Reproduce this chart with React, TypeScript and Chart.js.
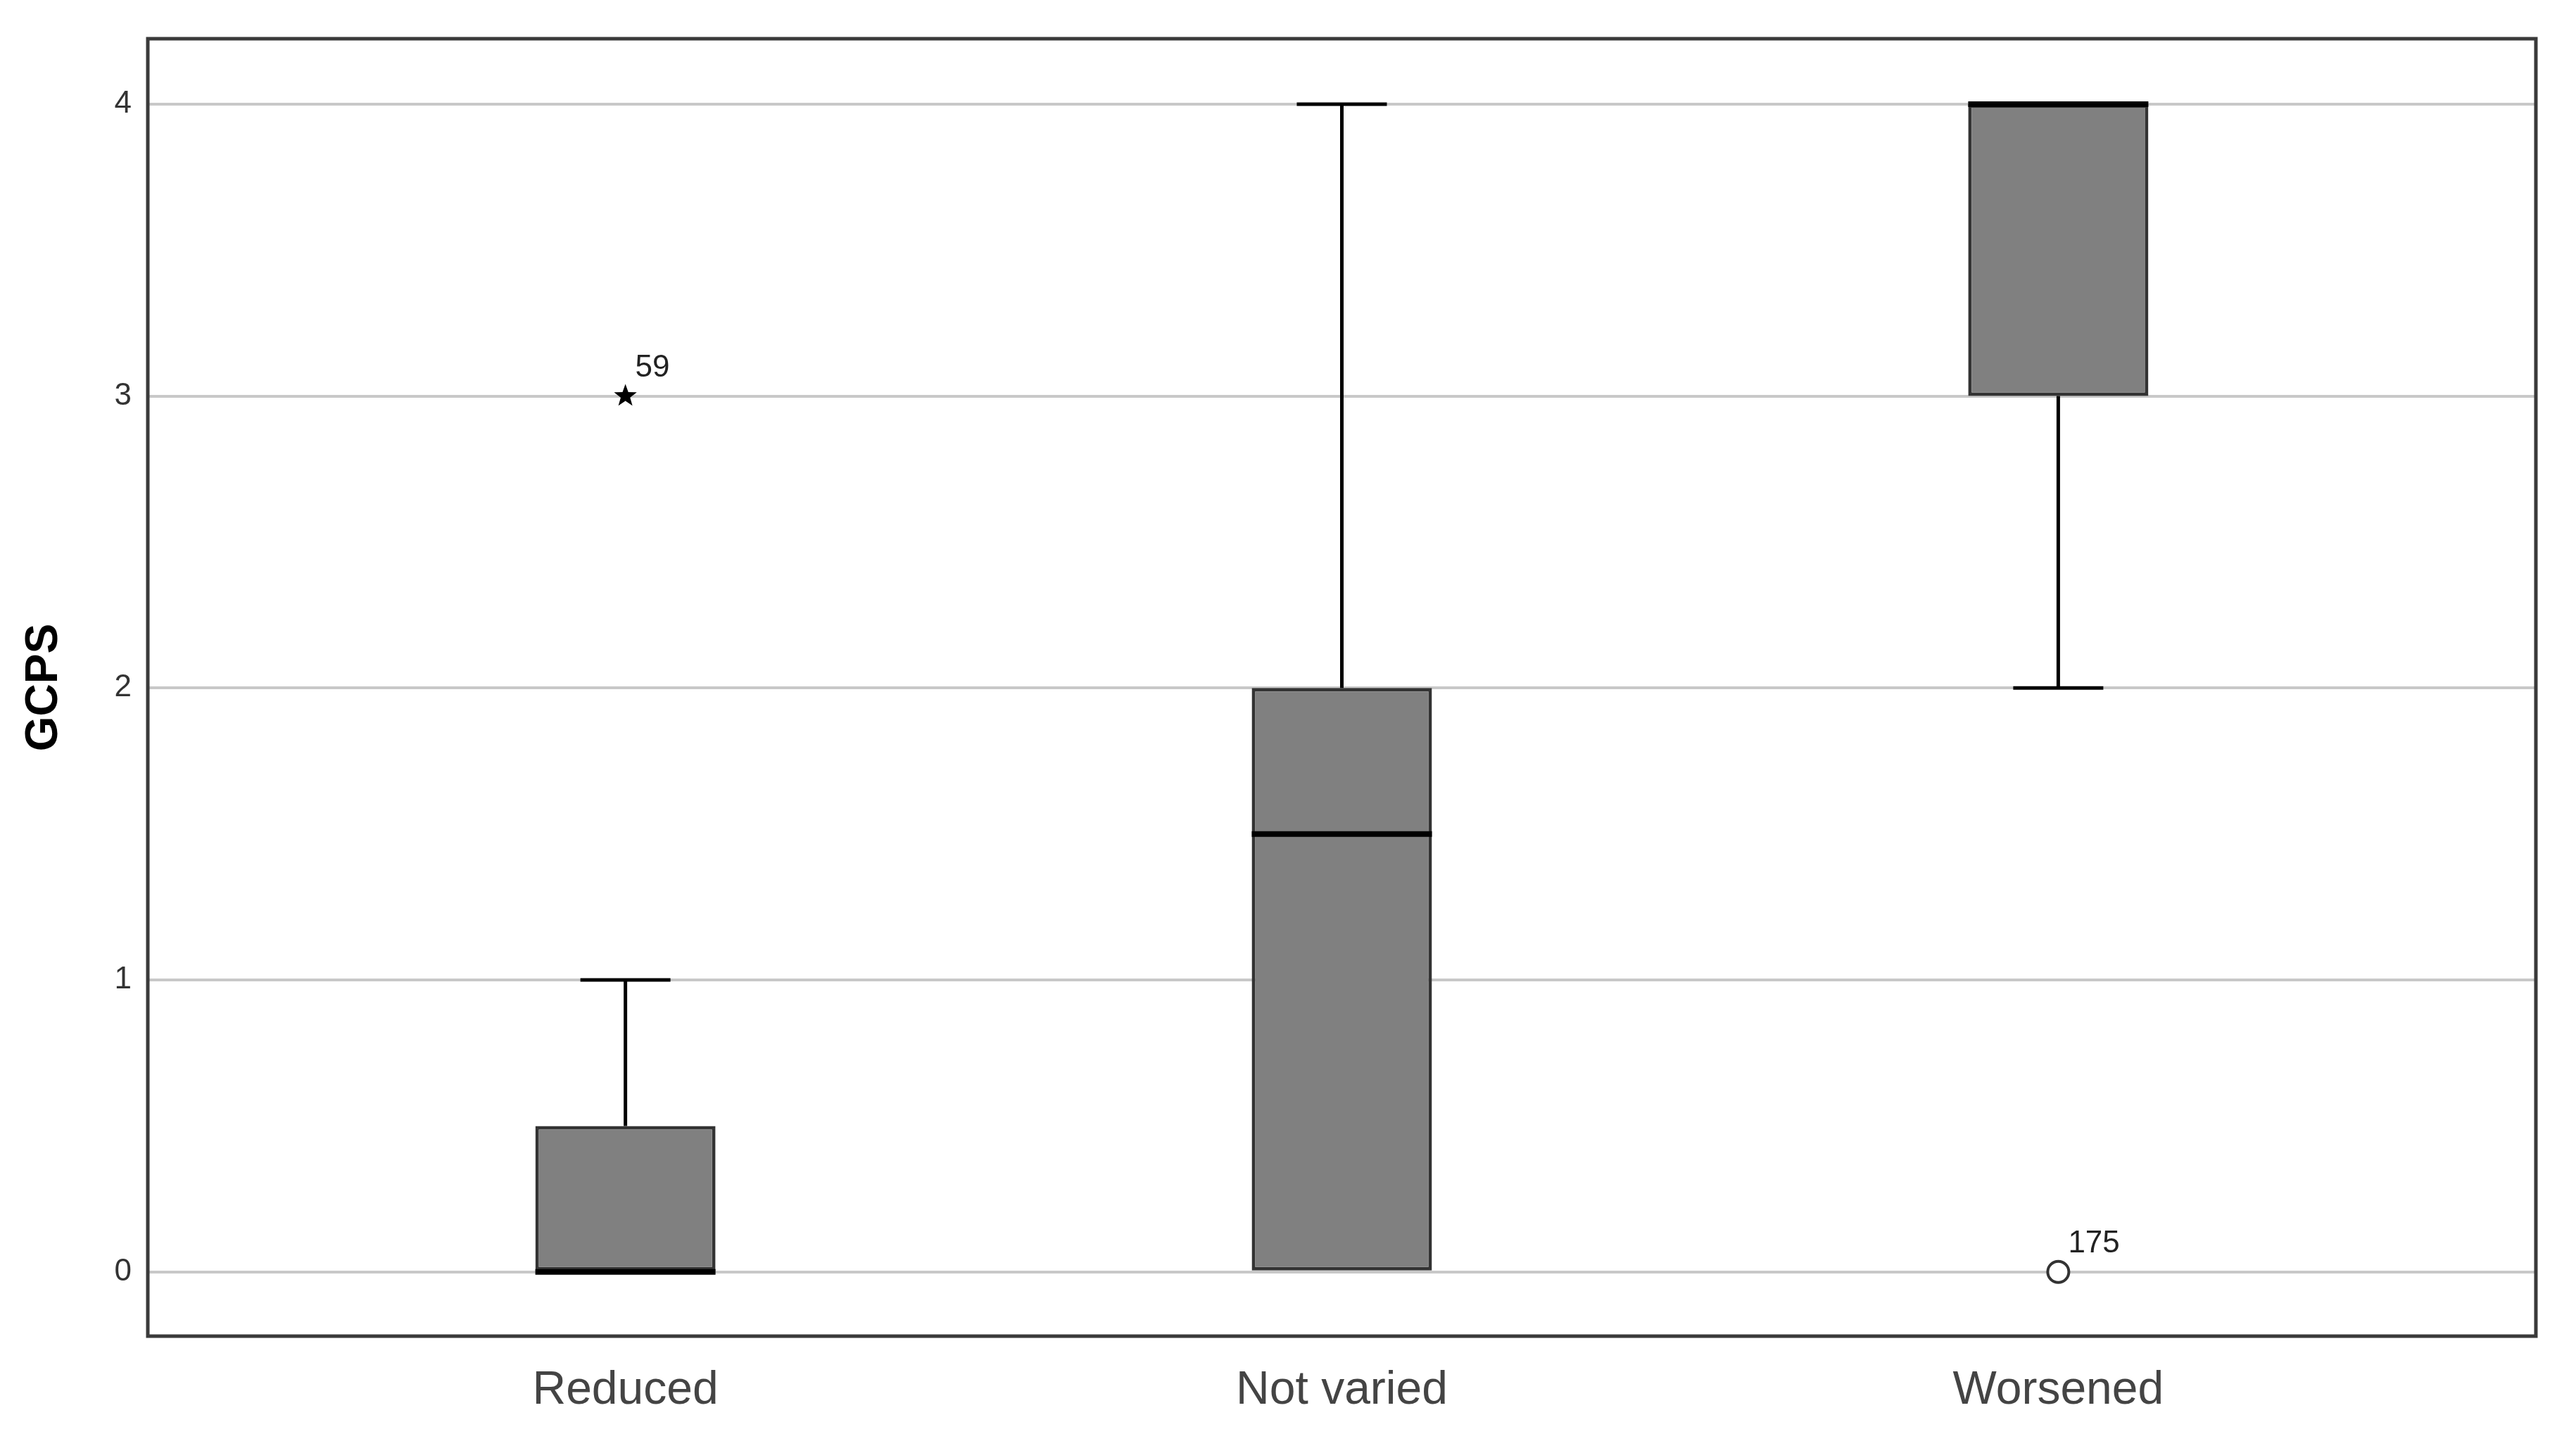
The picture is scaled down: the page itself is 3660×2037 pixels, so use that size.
import React, { useEffect, useRef } from "react";
import { Chart, registerables } from "chart.js";

Chart.register(...registerables);

// ---- data ----
const categories = ["Reduced", "Not varied", "Worsened"];
const categoryPositions = [1, 2, 3];
const q1Values = [0, 0, 3];
const medianValues = [0, 1.5, 4];
const q3Values = [0.5, 2, 4];
const whiskerLow = [0, 0, 2];
const whiskerHigh = [1, 4, 4];
const outlierCategory = [0, 2];
const outlierValues = [3, 0];
const outlierLabels = ["59", "175"];
const outlierSymbols = ["star", "circle"];
const yTickValues = [0, 1, 2, 3, 4];
const yAxisTitle = "GCPS";

const FONT = "'Liberation Sans', Arial, sans-serif";

const boxPlotPlugin = {
  id: "boxPlotExtras",
  afterDatasetsDraw(chart: any) {
    const { ctx, scales } = chart;
    const xs = scales.x;
    const ys = scales.y;
    const meta = chart.getDatasetMeta(0);
    ctx.save();
    categories.forEach((_, i) => {
      const bar = meta.data[i];
      const cx = xs.getPixelForValue(categoryPositions[i]);
      const half = bar.width / 2;
      const capHalf = half / 2;
      ctx.strokeStyle = "#000";
      ctx.lineWidth = 5;
      ctx.lineCap = "butt";
      const yQ3 = ys.getPixelForValue(q3Values[i]);
      const yHi = ys.getPixelForValue(whiskerHigh[i]);
      const yQ1 = ys.getPixelForValue(q1Values[i]);
      const yLo = ys.getPixelForValue(whiskerLow[i]);
      if (whiskerHigh[i] > q3Values[i]) {
        ctx.beginPath();
        ctx.moveTo(cx, yQ3);
        ctx.lineTo(cx, yHi);
        ctx.moveTo(cx - capHalf, yHi);
        ctx.lineTo(cx + capHalf, yHi);
        ctx.stroke();
      }
      if (whiskerLow[i] < q1Values[i]) {
        ctx.beginPath();
        ctx.moveTo(cx, yQ1);
        ctx.lineTo(cx, yLo);
        ctx.moveTo(cx - capHalf, yLo);
        ctx.lineTo(cx + capHalf, yLo);
        ctx.stroke();
      }
      const yMed = ys.getPixelForValue(medianValues[i]);
      ctx.lineWidth = 8;
      ctx.beginPath();
      ctx.moveTo(cx - half, yMed);
      ctx.lineTo(cx + half, yMed);
      ctx.stroke();
    });
    outlierValues.forEach((v, k) => {
      const ci = outlierCategory[k];
      const px = xs.getPixelForValue(categoryPositions[ci]);
      const py = ys.getPixelForValue(v);
      if (outlierSymbols[k] === "star") {
        const R = 17;
        const r = 7;
        ctx.beginPath();
        for (let j = 0; j < 10; j++) {
          const ang = -Math.PI / 2 + (j * Math.PI) / 5;
          const rad = j % 2 === 0 ? R : r;
          const x = px + rad * Math.cos(ang);
          const y = py + rad * Math.sin(ang);
          if (j === 0) ctx.moveTo(x, y);
          else ctx.lineTo(x, y);
        }
        ctx.closePath();
        ctx.fillStyle = "#000";
        ctx.fill();
      } else {
        ctx.beginPath();
        ctx.arc(px, py, 15, 0, Math.PI * 2);
        ctx.fillStyle = "#fff";
        ctx.fill();
        ctx.strokeStyle = "#333";
        ctx.lineWidth = 4;
        ctx.stroke();
      }
      ctx.fillStyle = "#222";
      ctx.font = `44px ${FONT}`;
      ctx.textAlign = "left";
      ctx.textBaseline = "alphabetic";
      ctx.fillText(outlierLabels[k], px + 14, py - 28);
    });
    ctx.restore();
  },
  afterDraw(chart: any) {
    const { ctx, chartArea } = chart;
    ctx.save();
    ctx.strokeStyle = "#3a3a3a";
    ctx.lineWidth = 5;
    ctx.strokeRect(
      chartArea.left,
      chartArea.top,
      chartArea.right - chartArea.left,
      chartArea.bottom - chartArea.top
    );
    ctx.restore();
  },
};

export default function App() {
  const canvasRef = useRef<HTMLCanvasElement | null>(null);

  useEffect(() => {
    if (!canvasRef.current) return;
    const boxData = categories.map((_, i) => ({
      x: categoryPositions[i],
      y: [q1Values[i], q3Values[i]],
    }));
    const chart = new Chart(canvasRef.current, {
      type: "bar",
      data: {
        datasets: [
          {
            data: boxData as any,
            backgroundColor: "#808080",
            borderColor: "#333333",
            borderWidth: 5,
            borderSkipped: false,
            categoryPercentage: 1,
            barPercentage: 0.2515,
          } as any,
        ],
      },
      options: {
        animation: false,
        responsive: true,
        maintainAspectRatio: false,
        layout: { padding: { left: 0, top: 55, right: 57, bottom: 0 } },
        plugins: {
          legend: { display: false },
          tooltip: { enabled: false },
        },
        scales: {
          x: {
            type: "linear",
            offset: false,
            bounds: "data",
            min: 1 / 3,
            max: 11 / 3,
            afterBuildTicks: (scale: any) => {
              scale.ticks = categoryPositions.map((v) => ({ value: v }));
            },
            afterFit: (scale: any) => {
              scale.height = 139;
            },
            grid: { display: false, drawTicks: false, offset: false },
            border: { display: false },
            ticks: {
              padding: 38,
              autoSkip: false,
              maxRotation: 0,
              color: "#444",
              font: { family: FONT, size: 66 },
              callback: (v: any) => {
                const idx = categoryPositions.indexOf(Number(v));
                return idx >= 0 ? categories[idx] : "";
              },
            },
          },
          y: {
            type: "linear",
            min: -0.22,
            max: 4.224,
            afterBuildTicks: (scale: any) => {
              scale.ticks = yTickValues.map((v) => ({ value: v }));
            },
            afterFit: (scale: any) => {
              scale.width = 210;
            },
            grid: { color: "#c8c8c8", lineWidth: 4, drawTicks: false },
            border: { display: false },
            ticks: {
              padding: 23,
              color: "#333",
              font: { family: FONT, size: 44 },
            },
            title: {
              display: true,
              text: yAxisTitle,
              color: "#000",
              font: { family: FONT, size: 64, weight: "bold" },
              padding: { top: 25, bottom: 0 },
            },
          },
        },
      },
      plugins: [boxPlotPlugin],
    });
    return () => chart.destroy();
  }, []);

  return (
    <div
      style={{
        position: "fixed",
        left: 0,
        top: 0,
        width: 3660,
        height: 2037,
        background: "#fff",
      }}
    >
      <canvas ref={canvasRef} />
    </div>
  );
}
